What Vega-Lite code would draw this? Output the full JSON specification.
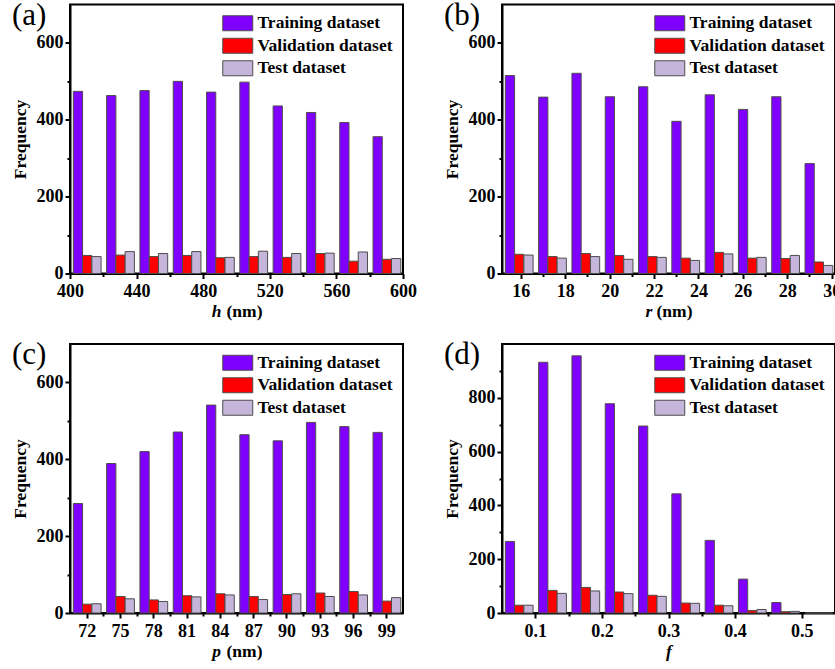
{
  "$schema": "https://vega.github.io/schema/vega-lite/v6.json",
  "padding": {"left": 10, "top": -1.5, "right": 0, "bottom": 0},
  "background": "white",
  "config": {
    "font": "Liberation Serif",
    "view": {"stroke": "black", "strokeWidth": 2},
    "axis": {
      "labelFont": "Liberation Serif", "labelFontSize": 18, "labelFontWeight": "bold", "labelColor": "black",
      "titleFont": "Liberation Serif", "titleFontSize": 17.5, "titleFontWeight": "bold", "titleColor": "black",
      "domainColor": "black", "domainWidth": 2, "tickColor": "black", "tickWidth": 2, "grid": false,
      "labelFlush": false, "labelOverlap": false
    },
    "legend": {
      "title": null, "orient": "top-right", "offset": 10, "padding": 0,
      "symbolType": "M-2,-1H2V1H-2Z", "symbolSize": 225,
      "symbolStrokeColor": "#4d4d4d", "symbolStrokeWidth": 1, "symbolOpacity": 1,
      "labelFont": "Liberation Serif", "labelFontSize": 17.5, "labelFontWeight": "bold", "labelColor": "black",
      "labelOffset": 11, "rowPadding": 2.5
    },
    "title": {"font": "Liberation Serif", "fontSize": 31, "fontWeight": "normal", "color": "black", "anchor": "start", "frame": "group", "offset": 0, "baseline": "alphabetic", "dx": -58, "dy": 31}
  },
  "datasets": {
    "a": [
      {"lo": 400, "set": "Training dataset", "n": 474}, {"lo": 400, "set": "Validation dataset", "n": 47}, {"lo": 400, "set": "Test dataset", "n": 44},
      {"lo": 420, "set": "Training dataset", "n": 463}, {"lo": 420, "set": "Validation dataset", "n": 48}, {"lo": 420, "set": "Test dataset", "n": 57},
      {"lo": 440, "set": "Training dataset", "n": 476}, {"lo": 440, "set": "Validation dataset", "n": 44}, {"lo": 440, "set": "Test dataset", "n": 52},
      {"lo": 460, "set": "Training dataset", "n": 500}, {"lo": 460, "set": "Validation dataset", "n": 47}, {"lo": 460, "set": "Test dataset", "n": 57},
      {"lo": 480, "set": "Training dataset", "n": 472}, {"lo": 480, "set": "Validation dataset", "n": 41}, {"lo": 480, "set": "Test dataset", "n": 42},
      {"lo": 500, "set": "Training dataset", "n": 498}, {"lo": 500, "set": "Validation dataset", "n": 44}, {"lo": 500, "set": "Test dataset", "n": 58},
      {"lo": 520, "set": "Training dataset", "n": 436}, {"lo": 520, "set": "Validation dataset", "n": 42}, {"lo": 520, "set": "Test dataset", "n": 52},
      {"lo": 540, "set": "Training dataset", "n": 419}, {"lo": 540, "set": "Validation dataset", "n": 52}, {"lo": 540, "set": "Test dataset", "n": 53},
      {"lo": 560, "set": "Training dataset", "n": 393}, {"lo": 560, "set": "Validation dataset", "n": 32}, {"lo": 560, "set": "Test dataset", "n": 56},
      {"lo": 580, "set": "Training dataset", "n": 356}, {"lo": 580, "set": "Validation dataset", "n": 37}, {"lo": 580, "set": "Test dataset", "n": 39}
    ],
    "b": [
      {"lo": 15.15, "set": "Training dataset", "n": 515}, {"lo": 15.15, "set": "Validation dataset", "n": 50}, {"lo": 15.15, "set": "Test dataset", "n": 48},
      {"lo": 16.65, "set": "Training dataset", "n": 459}, {"lo": 16.65, "set": "Validation dataset", "n": 44}, {"lo": 16.65, "set": "Test dataset", "n": 40},
      {"lo": 18.15, "set": "Training dataset", "n": 521}, {"lo": 18.15, "set": "Validation dataset", "n": 52}, {"lo": 18.15, "set": "Test dataset", "n": 44},
      {"lo": 19.65, "set": "Training dataset", "n": 460}, {"lo": 19.65, "set": "Validation dataset", "n": 47}, {"lo": 19.65, "set": "Test dataset", "n": 37},
      {"lo": 21.15, "set": "Training dataset", "n": 486}, {"lo": 21.15, "set": "Validation dataset", "n": 44}, {"lo": 21.15, "set": "Test dataset", "n": 42},
      {"lo": 22.65, "set": "Training dataset", "n": 396}, {"lo": 22.65, "set": "Validation dataset", "n": 40}, {"lo": 22.65, "set": "Test dataset", "n": 34},
      {"lo": 24.15, "set": "Training dataset", "n": 465}, {"lo": 24.15, "set": "Validation dataset", "n": 55}, {"lo": 24.15, "set": "Test dataset", "n": 51},
      {"lo": 25.65, "set": "Training dataset", "n": 427}, {"lo": 25.65, "set": "Validation dataset", "n": 40}, {"lo": 25.65, "set": "Test dataset", "n": 42},
      {"lo": 27.15, "set": "Training dataset", "n": 460}, {"lo": 27.15, "set": "Validation dataset", "n": 39}, {"lo": 27.15, "set": "Test dataset", "n": 47},
      {"lo": 28.65, "set": "Training dataset", "n": 286}, {"lo": 28.65, "set": "Validation dataset", "n": 30}, {"lo": 28.65, "set": "Test dataset", "n": 21}
    ],
    "c": [
      {"lo": 70.5, "set": "Training dataset", "n": 285}, {"lo": 70.5, "set": "Validation dataset", "n": 23}, {"lo": 70.5, "set": "Test dataset", "n": 24},
      {"lo": 73.5, "set": "Training dataset", "n": 389}, {"lo": 73.5, "set": "Validation dataset", "n": 43}, {"lo": 73.5, "set": "Test dataset", "n": 37},
      {"lo": 76.5, "set": "Training dataset", "n": 420}, {"lo": 76.5, "set": "Validation dataset", "n": 34}, {"lo": 76.5, "set": "Test dataset", "n": 30},
      {"lo": 79.5, "set": "Training dataset", "n": 471}, {"lo": 79.5, "set": "Validation dataset", "n": 45}, {"lo": 79.5, "set": "Test dataset", "n": 42},
      {"lo": 82.5, "set": "Training dataset", "n": 541}, {"lo": 82.5, "set": "Validation dataset", "n": 50}, {"lo": 82.5, "set": "Test dataset", "n": 47},
      {"lo": 85.5, "set": "Training dataset", "n": 464}, {"lo": 85.5, "set": "Validation dataset", "n": 43}, {"lo": 85.5, "set": "Test dataset", "n": 35},
      {"lo": 88.5, "set": "Training dataset", "n": 448}, {"lo": 88.5, "set": "Validation dataset", "n": 48}, {"lo": 88.5, "set": "Test dataset", "n": 50},
      {"lo": 91.5, "set": "Training dataset", "n": 496}, {"lo": 91.5, "set": "Validation dataset", "n": 52}, {"lo": 91.5, "set": "Test dataset", "n": 43},
      {"lo": 94.5, "set": "Training dataset", "n": 485}, {"lo": 94.5, "set": "Validation dataset", "n": 56}, {"lo": 94.5, "set": "Test dataset", "n": 47},
      {"lo": 97.5, "set": "Training dataset", "n": 470}, {"lo": 97.5, "set": "Validation dataset", "n": 31}, {"lo": 97.5, "set": "Test dataset", "n": 40}
    ],
    "d": [
      {"lo": 0.05, "set": "Training dataset", "n": 266}, {"lo": 0.05, "set": "Validation dataset", "n": 29}, {"lo": 0.05, "set": "Test dataset", "n": 29},
      {"lo": 0.10, "set": "Training dataset", "n": 932}, {"lo": 0.10, "set": "Validation dataset", "n": 84}, {"lo": 0.10, "set": "Test dataset", "n": 73},
      {"lo": 0.15, "set": "Training dataset", "n": 956}, {"lo": 0.15, "set": "Validation dataset", "n": 95}, {"lo": 0.15, "set": "Test dataset", "n": 82},
      {"lo": 0.20, "set": "Training dataset", "n": 778}, {"lo": 0.20, "set": "Validation dataset", "n": 78}, {"lo": 0.20, "set": "Test dataset", "n": 72},
      {"lo": 0.25, "set": "Training dataset", "n": 695}, {"lo": 0.25, "set": "Validation dataset", "n": 66}, {"lo": 0.25, "set": "Test dataset", "n": 62},
      {"lo": 0.30, "set": "Training dataset", "n": 443}, {"lo": 0.30, "set": "Validation dataset", "n": 37}, {"lo": 0.30, "set": "Test dataset", "n": 36},
      {"lo": 0.35, "set": "Training dataset", "n": 270}, {"lo": 0.35, "set": "Validation dataset", "n": 29}, {"lo": 0.35, "set": "Test dataset", "n": 27},
      {"lo": 0.40, "set": "Training dataset", "n": 126}, {"lo": 0.40, "set": "Validation dataset", "n": 9}, {"lo": 0.40, "set": "Test dataset", "n": 13},
      {"lo": 0.45, "set": "Training dataset", "n": 39}, {"lo": 0.45, "set": "Validation dataset", "n": 5}, {"lo": 0.45, "set": "Test dataset", "n": 6},
      {"lo": 0.50, "set": "Training dataset", "n": 0}, {"lo": 0.50, "set": "Validation dataset", "n": 0}, {"lo": 0.50, "set": "Test dataset", "n": 0}
    ]
  },
  "columns": 2,
  "spacing": {"row": 16.5, "column": 24},
  "resolve": {"scale": {"color": "independent"}, "legend": {"color": "independent"}},
  "concat": [
    {
      "width": 333, "height": 269,
      "title": {"text": "(a)"},
      "data": {"name": "a"},
      "layer": [
        {
          "mark": {"type": "bar", "stroke": "#4d4d4d", "strokeWidth": 1},
          "encoding": {
            "x": {"field": "lo", "type": "ordinal", "scale": {"paddingInner": 0, "paddingOuter": 0},
                  "axis": {"orient": "bottom", "labels": false, "ticks": false, "domain": false, "title": "h", "titleFontStyle": "italic", "titleX": 146, "titleY": 43, "titleBaseline": "alphabetic", "titleAlign": "center", "titleAngle": 0}},
            "xOffset": {"field": "set", "type": "nominal", "sort": ["Training dataset", "Validation dataset", "Test dataset"], "scale": {"paddingInner": 0, "paddingOuter": 0.3, "align": 0.6}},
            "y": {"field": "n", "type": "quantitative", "scale": {"domain": [0, 700], "nice": false},
                  "axis": {"title": "Frequency", "values": [0, 100, 200, 300, 400, 500, 600], "labelExpr": "datum.value % 200 == 0 ? datum.label : ''", "tickSize": {"condition": {"test": "datum.value % 200 == 0", "value": 5}, "value": 3}, "labelPadding": 2, "titlePadding": 7}},
            "color": {"field": "set", "type": "nominal", "sort": ["Training dataset", "Validation dataset", "Test dataset"],
                      "scale": {"domain": ["Training dataset", "Validation dataset", "Test dataset"], "range": ["#8000FF", "#FF0000", "#C5B5DB"]}}
          }
        },
        {
          "mark": {"type": "point", "opacity": 0},
          "encoding": {
            "x": {"field": "lo", "type": "quantitative", "scale": {"domain": [400, 600], "nice": false, "zero": false},
                  "axis": {"orient": "bottom", "values": [400, 420, 440, 460, 480, 500, 520, 540, 560, 580, 600], "format": "d", "labelExpr": "datum.value % 40 == 0 ? datum.label : ''", "tickSize": {"condition": {"test": "datum.value % 40 == 0", "value": 5}, "value": 3}, "labelPadding": 4, "title": "(nm)", "titleX": 174, "titleY": 43, "titleBaseline": "alphabetic", "titleAlign": "center", "titleAngle": 0}}
          }
        }
      ],
      "resolve": {"scale": {"x": "independent"}, "axis": {"x": "independent"}}
    },
    {
      "width": 333, "height": 269,
      "title": {"text": "(b)"},
      "data": {"name": "b"},
      "layer": [
        {
          "mark": {"type": "bar", "stroke": "#4d4d4d", "strokeWidth": 1},
          "encoding": {
            "x": {"field": "lo", "type": "ordinal", "scale": {"paddingInner": 0, "paddingOuter": 0},
                  "axis": {"orient": "bottom", "labels": false, "ticks": false, "domain": false, "title": "r", "titleFontStyle": "italic", "titleX": 146.5, "titleY": 43, "titleBaseline": "alphabetic", "titleAlign": "center", "titleAngle": 0}},
            "xOffset": {"field": "set", "type": "nominal", "sort": ["Training dataset", "Validation dataset", "Test dataset"], "scale": {"paddingInner": 0, "paddingOuter": 0.3, "align": 0.6}},
            "y": {"field": "n", "type": "quantitative", "scale": {"domain": [0, 700], "nice": false},
                  "axis": {"title": "Frequency", "values": [0, 100, 200, 300, 400, 500, 600], "labelExpr": "datum.value % 200 == 0 ? datum.label : ''", "tickSize": {"condition": {"test": "datum.value % 200 == 0", "value": 5}, "value": 3}, "labelPadding": 2, "titlePadding": 7}},
            "color": {"field": "set", "type": "nominal", "sort": ["Training dataset", "Validation dataset", "Test dataset"],
                      "scale": {"domain": ["Training dataset", "Validation dataset", "Test dataset"], "range": ["#8000FF", "#FF0000", "#C5B5DB"]}}
          }
        },
        {
          "mark": {"type": "point", "opacity": 0},
          "encoding": {
            "x": {"field": "lo", "type": "quantitative", "scale": {"domain": [15.15, 30.15], "nice": false, "zero": false},
                  "axis": {"orient": "bottom", "values": [16, 17, 18, 19, 20, 21, 22, 23, 24, 25, 26, 27, 28, 29, 30], "format": "d", "labelExpr": "datum.value % 2 == 0 ? datum.label : ''", "tickSize": {"condition": {"test": "datum.value % 2 == 0", "value": 5}, "value": 3}, "labelPadding": 4, "title": "(nm)", "titleX": 172, "titleY": 43, "titleBaseline": "alphabetic", "titleAlign": "center", "titleAngle": 0}}
          }
        }
      ],
      "resolve": {"scale": {"x": "independent"}, "axis": {"x": "independent"}}
    },
    {
      "width": 333, "height": 269,
      "title": {"text": "(c)"},
      "data": {"name": "c"},
      "layer": [
        {
          "mark": {"type": "bar", "stroke": "#4d4d4d", "strokeWidth": 1},
          "encoding": {
            "x": {"field": "lo", "type": "ordinal", "scale": {"paddingInner": 0, "paddingOuter": 0},
                  "axis": {"orient": "bottom", "labels": false, "ticks": false, "domain": false, "title": "p", "titleFontStyle": "italic", "titleX": 146, "titleY": 43, "titleBaseline": "alphabetic", "titleAlign": "center", "titleAngle": 0}},
            "xOffset": {"field": "set", "type": "nominal", "sort": ["Training dataset", "Validation dataset", "Test dataset"], "scale": {"paddingInner": 0, "paddingOuter": 0.3, "align": 0.6}},
            "y": {"field": "n", "type": "quantitative", "scale": {"domain": [0, 700], "nice": false},
                  "axis": {"title": "Frequency", "values": [0, 100, 200, 300, 400, 500, 600], "labelExpr": "datum.value % 200 == 0 ? datum.label : ''", "tickSize": {"condition": {"test": "datum.value % 200 == 0", "value": 5}, "value": 3}, "labelPadding": 2, "titlePadding": 7}},
            "color": {"field": "set", "type": "nominal", "sort": ["Training dataset", "Validation dataset", "Test dataset"],
                      "scale": {"domain": ["Training dataset", "Validation dataset", "Test dataset"], "range": ["#8000FF", "#FF0000", "#C5B5DB"]}}
          }
        },
        {
          "mark": {"type": "point", "opacity": 0},
          "encoding": {
            "x": {"field": "lo", "type": "quantitative", "scale": {"domain": [70.5, 100.5], "nice": false, "zero": false},
                  "axis": {"orient": "bottom", "values": [72, 73.5, 75, 76.5, 78, 79.5, 81, 82.5, 84, 85.5, 87, 88.5, 90, 91.5, 93, 94.5, 96, 97.5, 99], "format": "d", "labelExpr": "datum.value % 3 == 0 ? datum.label : ''", "tickSize": {"condition": {"test": "datum.value % 3 == 0", "value": 5}, "value": 3}, "labelPadding": 4, "title": "(nm)", "titleX": 174, "titleY": 43, "titleBaseline": "alphabetic", "titleAlign": "center", "titleAngle": 0}}
          }
        }
      ],
      "resolve": {"scale": {"x": "independent"}, "axis": {"x": "independent"}}
    },
    {
      "width": 333, "height": 269,
      "title": {"text": "(d)"},
      "data": {"name": "d"},
      "layer": [
        {
          "mark": {"type": "bar", "stroke": "#4d4d4d", "strokeWidth": 1},
          "encoding": {
            "x": {"field": "lo", "type": "ordinal", "scale": {"paddingInner": 0, "paddingOuter": 0},
                  "axis": {"orient": "bottom", "labels": false, "ticks": false, "domain": false, "title": "f", "titleFontStyle": "italic", "titleX": 166.5, "titleY": 43, "titleBaseline": "alphabetic", "titleAlign": "center", "titleAngle": 0}},
            "xOffset": {"field": "set", "type": "nominal", "sort": ["Training dataset", "Validation dataset", "Test dataset"], "scale": {"paddingInner": 0, "paddingOuter": 0.3, "align": 0.6}},
            "y": {"field": "n", "type": "quantitative", "scale": {"domain": [0, 1000], "nice": false},
                  "axis": {"title": "Frequency", "values": [0, 100, 200, 300, 400, 500, 600, 700, 800, 900], "labelExpr": "datum.value % 200 == 0 ? datum.label : ''", "tickSize": {"condition": {"test": "datum.value % 200 == 0", "value": 5}, "value": 3}, "labelPadding": 2, "titlePadding": 7}},
            "color": {"field": "set", "type": "nominal", "sort": ["Training dataset", "Validation dataset", "Test dataset"],
                      "scale": {"domain": ["Training dataset", "Validation dataset", "Test dataset"], "range": ["#8000FF", "#FF0000", "#C5B5DB"]}}
          }
        },
        {
          "mark": {"type": "point", "opacity": 0},
          "encoding": {
            "x": {"field": "lo", "type": "quantitative", "scale": {"domain": [0.05, 0.55], "nice": false, "zero": false},
                  "axis": {"orient": "bottom", "values": [0.1, 0.15, 0.2, 0.25, 0.3, 0.35, 0.4, 0.45, 0.5], "format": ".1f", "labelExpr": "round(datum.value * 100) % 10 == 0 ? datum.label : ''", "tickSize": {"condition": {"test": "round(datum.value * 100) % 10 == 0", "value": 5}, "value": 3}, "labelPadding": 4, "title": null}}
          }
        }
      ],
      "resolve": {"scale": {"x": "independent"}, "axis": {"x": "independent"}}
    }
  ]
}
